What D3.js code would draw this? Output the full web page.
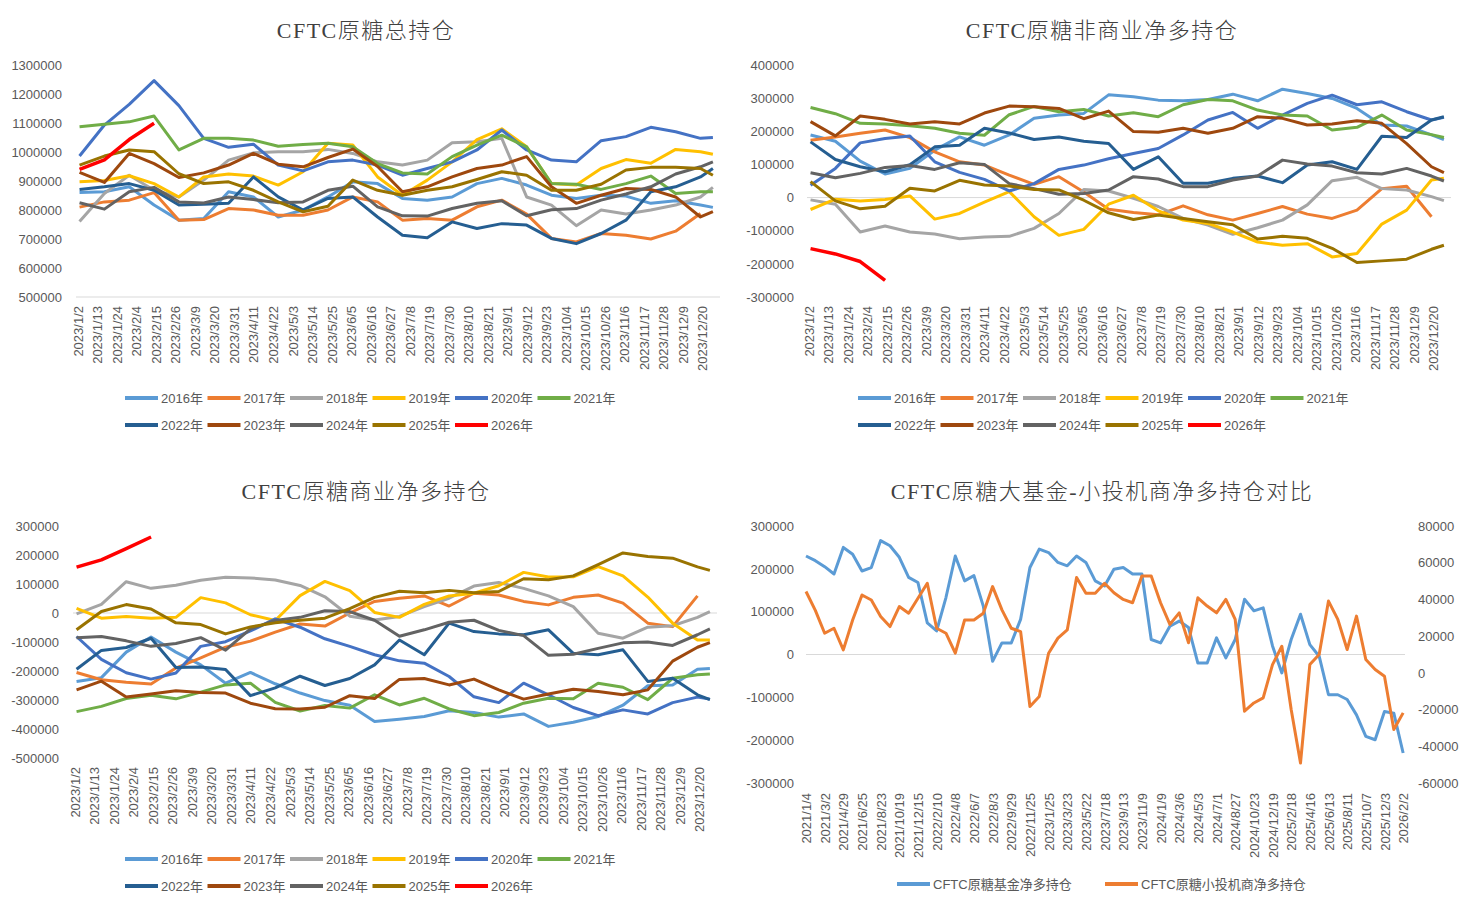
<!DOCTYPE html>
<html>
<head>
<meta charset="utf-8">
<script src="https://cdn.jsdelivr.net/npm/d3@7"></script>
<style>
  body { margin: 0; background: #fff; }
  text { font-family: "Liberation Sans", "Noto Sans CJK SC", sans-serif; }
</style>
</head>
<body>
<script>
const years = ["2016年", "2017年", "2018年", "2019年", "2020年", "2021年", "2022年", "2023年", "2024年", "2025年", "2026年"];
const yearColors = ["#5B9BD5", "#ED7D31", "#A5A5A5", "#FFC000", "#4472C4", "#70AD47", "#255E91", "#9E480E", "#636363", "#997300", "#FF0000"];

// every second week, mapped onto the 2023 calendar
const sampleDates = ["2023/1/3", "2023/1/17", "2023/1/31", "2023/2/14", "2023/2/28", "2023/3/14", "2023/3/28",
  "2023/4/11", "2023/4/25", "2023/5/9", "2023/5/23", "2023/6/6", "2023/6/20", "2023/7/4", "2023/7/18",
  "2023/8/1", "2023/8/15", "2023/8/29", "2023/9/12", "2023/9/26", "2023/10/10", "2023/10/24", "2023/11/7",
  "2023/11/21", "2023/12/5", "2023/12/19", "2023/12/26"];

// CFTC原糖总持仓, one row per year
const totalOI = [
  [860000, 863000, 880000, 817000, 765000, 771000, 863000, 845000, 776000, 800000, 845000, 897000, 891000, 840000, 834000, 845000, 891000, 909000, 886000, 851000, 840000, 851000, 848000, 823000, 832000, 817000, 809000],
  [810000, 828000, 834000, 860000, 765000, 767000, 805000, 800000, 782000, 782000, 800000, 845000, 828000, 765000, 771000, 765000, 811000, 834000, 786000, 702000, 690000, 719000, 713000, 700000, 727000, 788000],
  [760000, 857000, 920000, 868000, 845000, 903000, 972000, 997000, 1001000, 1001000, 1009000, 995000, 966000, 955000, 972000, 1032000, 1035000, 1047000, 845000, 817000, 746000, 800000, 786000, 800000, 817000, 845000, 878000],
  [897000, 902000, 918000, 891000, 845000, 914000, 924000, 917000, 886000, 932000, 1030000, 1024000, 914000, 851000, 903000, 966000, 1043000, 1080000, 1018000, 891000, 886000, 943000, 974000, 961000, 1009000, 1001000, 992000],
  [986000, 1093000, 1164000, 1246000, 1160000, 1047000, 1016000, 1027000, 955000, 935000, 966000, 972000, 955000, 920000, 943000, 966000, 1007000, 1076000, 1007000, 972000, 966000, 1039000, 1053000, 1085000, 1070000, 1047000, 1050000],
  [1087000, 1096000, 1104000, 1124000, 1007000, 1047000, 1047000, 1041000, 1020000, 1026000, 1030000, 1018000, 960000, 928000, 924000, 984000, 1024000, 1058000, 1018000, 891000, 889000, 871000, 891000, 917000, 857000, 863000, 863000],
  [871000, 880000, 891000, 868000, 817000, 820000, 823000, 914000, 845000, 800000, 840000, 845000, 776000, 713000, 704000, 759000, 736000, 753000, 748000, 702000, 684000, 719000, 765000, 863000, 880000, 914000, 943000],
  [930000, 895000, 995000, 960000, 912000, 928000, 955000, 995000, 958000, 949000, 981000, 1010000, 950000, 863000, 880000, 914000, 943000, 955000, 984000, 880000, 823000, 851000, 874000, 871000, 845000, 776000, 794000],
  [825000, 803000, 863000, 878000, 828000, 824000, 845000, 836000, 825000, 828000, 868000, 882000, 811000, 780000, 779000, 805000, 823000, 832000, 780000, 801000, 805000, 834000, 855000, 880000, 924000, 949000, 966000],
  [955000, 986000, 1007000, 1001000, 925000, 891000, 897000, 868000, 828000, 794000, 813000, 903000, 868000, 851000, 868000, 880000, 905000, 932000, 920000, 868000, 868000, 889000, 938000, 947000, 947000, 943000, 920000],
  [940000, 973000, 1043000, 1099000]
];

// CFTC原糖非商业净多持仓
const nonCommNet = [
  [189000, 170000, 110000, 71000, 88000, 143000, 183000, 158000, 189000, 239000, 249000, 254000, 310000, 304000, 294000, 292000, 296000, 312000, 292000, 327000, 314000, 299000, 269000, 219000, 216000, 189000, 175000],
  [173000, 183000, 194000, 204000, 181000, 138000, 108000, 98000, 68000, 40000, 63000, 17000, -35000, -45000, -52000, -25000, -52000, -68000, -48000, -27000, -50000, -63000, -38000, 27000, 34000, -58000],
  [-7000, -20000, -104000, -86000, -104000, -110000, -124000, -119000, -117000, -93000, -48000, 24000, 20000, -2000, -27000, -63000, -83000, -111000, -91000, -68000, -22000, 51000, 61000, 27000, 23000, 3000, -9000],
  [-36000, -5000, -10000, -6000, 5000, -65000, -48000, -14000, 18000, -58000, -114000, -96000, -20000, 7000, -40000, -68000, -78000, -104000, -134000, -144000, -139000, -179000, -169000, -80000, -38000, 53000, 58000],
  [37000, 88000, 165000, 178000, 186000, 108000, 76000, 55000, 20000, 42000, 85000, 98000, 117000, 133000, 148000, 189000, 234000, 257000, 209000, 249000, 284000, 309000, 280000, 289000, 259000, 234000, 242000],
  [272000, 253000, 224000, 222000, 217000, 209000, 194000, 188000, 250000, 275000, 259000, 266000, 246000, 256000, 244000, 280000, 296000, 292000, 264000, 249000, 246000, 204000, 212000, 249000, 204000, 190000, 181000],
  [168000, 115000, 93000, 78000, 99000, 153000, 158000, 209000, 195000, 175000, 183000, 170000, 163000, 85000, 123000, 43000, 43000, 58000, 65000, 45000, 98000, 108000, 85000, 185000, 181000, 234000, 244000],
  [229000, 186000, 246000, 236000, 222000, 229000, 222000, 255000, 276000, 274000, 269000, 238000, 261000, 199000, 197000, 209000, 194000, 209000, 244000, 239000, 219000, 222000, 232000, 224000, 163000, 93000, 75000],
  [75000, 60000, 73000, 91000, 97000, 85000, 105000, 100000, 42000, 27000, 10000, 12000, 23000, 63000, 56000, 33000, 33000, 53000, 65000, 113000, 101000, 95000, 75000, 71000, 88000, 65000, 50000],
  [48000, -10000, -34000, -26000, 28000, 20000, 52000, 38000, 35000, 24000, 23000, -8000, -46000, -66000, -53000, -63000, -73000, -82000, -125000, -117000, -123000, -153000, -196000, -191000, -186000, -156000, -144000],
  [-154000, -170000, -193000, -250000]
];

// CFTC原糖商业净多持仓
const commNet = [
  [-236000, -223000, -135000, -83000, -135000, -179000, -242000, -205000, -244000, -276000, -302000, -318000, -374000, -366000, -357000, -337000, -343000, -359000, -348000, -391000, -377000, -357000, -318000, -251000, -248000, -194000, -191000],
  [-205000, -230000, -239000, -245000, -190000, -155000, -118000, -97000, -66000, -38000, -45000, 0, 40000, 51000, 59000, 24000, 68000, 62000, 40000, 28000, 54000, 62000, 34000, -35000, -47000, 59000],
  [-3000, 30000, 108000, 85000, 96000, 113000, 123000, 121000, 114000, 95000, 56000, -11000, -24000, -12000, 22000, 51000, 93000, 105000, 85000, 59000, 22000, -70000, -87000, -49000, -44000, -15000, 5000],
  [16000, -18000, -12000, -18000, -15000, 53000, 35000, -6000, -26000, 60000, 109000, 77000, 2000, -15000, 30000, 59000, 68000, 94000, 140000, 124000, 125000, 160000, 128000, 55000, -35000, -93000, -93000],
  [-81000, -160000, -206000, -228000, -207000, -115000, -99000, -62000, -20000, -49000, -89000, -115000, -144000, -165000, -173000, -219000, -289000, -309000, -242000, -282000, -326000, -354000, -334000, -348000, -309000, -290000, -297000],
  [-340000, -322000, -295000, -284000, -296000, -273000, -248000, -242000, -308000, -338000, -319000, -328000, -282000, -317000, -294000, -331000, -354000, -343000, -311000, -294000, -296000, -242000, -256000, -299000, -225000, -213000, -210000],
  [-194000, -129000, -119000, -87000, -188000, -186000, -195000, -285000, -258000, -218000, -250000, -226000, -179000, -93000, -144000, -35000, -64000, -72000, -75000, -58000, -139000, -144000, -127000, -236000, -225000, -282000, -299000],
  [-265000, -235000, -290000, -279000, -268000, -274000, -276000, -311000, -330000, -331000, -325000, -285000, -295000, -229000, -226000, -248000, -228000, -265000, -297000, -279000, -263000, -271000, -282000, -265000, -166000, -118000, -102000],
  [-85000, -81000, -96000, -115000, -105000, -85000, -128000, -55000, -26000, -15000, 8000, 5000, -25000, -80000, -58000, -32000, -25000, -60000, -78000, -146000, -142000, -122000, -103000, -100000, -112000, -75000, -55000],
  [-58000, 5000, 29000, 14000, -34000, -40000, -72000, -48000, -34000, -25000, -18000, 15000, 54000, 75000, 70000, 78000, 70000, 74000, 118000, 115000, 128000, 167000, 207000, 195000, 189000, 159000, 147000],
  [158000, 183000, 222000, 262000]
];

// 大基金 vs 小投机商, sampled every 20 trading days from 2021/1/4
const fundLabels = ["2021/1/4", "2021/3/2", "2021/4/29", "2021/6/25", "2021/8/23", "2021/10/19", "2021/12/15",
  "2022/2/10", "2022/4/8", "2022/6/7", "2022/8/3", "2022/9/29", "2022/11/25", "2023/1/25", "2023/3/23",
  "2023/5/22", "2023/7/18", "2023/9/13", "2023/11/9", "2024/1/9", "2024/3/6", "2024/5/3", "2024/7/1",
  "2024/8/27", "2024/10/23", "2024/12/19", "2025/2/18", "2025/4/16", "2025/6/13", "2025/8/11",
  "2025/10/7", "2025/12/3", "2026/2/2"];
const fundNet = [230000, 219000, 205000, 188000, 250000, 234000, 195000, 203000, 266000, 254000, 227000, 180000,
  168000, 74000, 55000, 133000, 230000, 172000, 184000, 113000, -16000, 27000, 27000, 82000, 203000, 246000,
  238000, 215000, 207000, 230000, 215000, 172000, 160000, 199000, 203000, 188000, 188000, 35000, 27000, 66000,
  78000, 63000, -20000, -20000, 39000, -8000, 35000, 129000, 102000, 109000, 20000, -43000, 35000, 94000, 23000,
  -4000, -94000, -94000, -105000, -141000, -191000, -199000, -133000, -137000, -230000];
const specNet = [44300, 34000, 21600, 24300, 12500, 28800, 42400, 39700, 30700, 25200, 36100, 32500, 40600, 48800,
  24300, 21600, 10700, 28800, 28800, 32500, 47000, 34300, 24300, 22500, -18300, -12900, 10700, 18900, 23400,
  52000, 43400, 43400, 48800, 43600, 40000, 38200, 52700, 52700, 38200, 26400, 32700, 16400, 40900, 36400, 32700,
  40000, 29100, -20900, -16400, -13600, 4500, 14500, -20000, -49100, 4500, 10000, 39100, 29100, 12700, 30900,
  7300, 1800, -1800, -30900, -21800];
const fundSeries = ["CFTC原糖基金净多持仓", "CFTC原糖小投机商净多持仓"];
const fundColors = ["#5B9BD5", "#ED7D31"];

const W = 1470, H = 909;
const labelColor = "#595959";
const svg = d3.select("body").append("svg").attr("width", W).attr("height", H);

const parse = d3.timeParse("%Y/%m/%d");
const fmt = d3.timeFormat("%Y/%-m/%-d");
const dates = sampleDates.map(parse);
const xTicks = d3.range(33).map(i => d3.timeDay.offset(new Date(2023, 0, 2), i * 11));

function title(cx, y, txt) {
  svg.append("text")
    .attr("x", cx).attr("y", y)
    .attr("text-anchor", "middle")
    .attr("fill", "#404040")
    .style("font-family", "'Liberation Serif', 'Noto Sans CJK SC', serif")
    .style("font-size", "22px")
    .style("font-weight", 300)
    .style("letter-spacing", "1.5px")
    .text(txt);
}

function yLabels(scale, ticks, xPos, orient) {
  const axis = orient === "left" ? d3.axisLeft(scale) : d3.axisRight(scale);
  svg.append("g")
    .attr("transform", `translate(${xPos},0)`)
    .call(axis.tickValues(ticks).tickSize(0).tickPadding(0).tickFormat(d => String(d)))
    .call(g => g.select(".domain").remove())
    .selectAll("text")
    .attr("fill", labelColor)
    .style("font-size", "13px");
}

function xLabels(axis, yTop) {
  svg.append("g")
    .attr("transform", `translate(0,${yTop})`)
    .call(axis.tickSize(0).tickPadding(0))
    .call(g => g.select(".domain").remove())
    .selectAll("text")
    .attr("x", 0).attr("y", 0).attr("dy", "0.35em")
    .attr("transform", "rotate(-90)")
    .attr("text-anchor", "end")
    .attr("fill", labelColor)
    .style("font-size", "13px");
}

function legend(names, colors, x0, ys, perRow, step) {
  names.forEach((name, i) => {
    const lx = x0 + (i % perRow) * step;
    const ly = ys[Math.floor(i / perRow)];
    const g = svg.append("g");
    g.append("line")
      .attr("x1", lx).attr("x2", lx + 33).attr("y1", ly).attr("y2", ly)
      .attr("stroke", colors[i]).attr("stroke-width", 4);
    g.append("text")
      .attr("x", lx + 36).attr("y", ly).attr("dy", "0.35em")
      .attr("fill", labelColor)
      .style("font-size", "13px")
      .text(name);
  });
}

function yearPanel(cfg) {
  const x = d3.scaleTime()
    .domain([new Date(2023, 0, 1), new Date(2023, 11, 30)])
    .range([cfg.x0, cfg.x1]);
  const y = d3.scaleLinear().domain(cfg.yDomain).range([cfg.yBottom, cfg.yTop]);

  title(cfg.titleX, cfg.titleY, cfg.title);
  yLabels(y, d3.range(cfg.yDomain[0], cfg.yDomain[1] + 1, 100000), cfg.yLabelX, "left");

  svg.append("line")
    .attr("x1", cfg.x0).attr("x2", cfg.x1)
    .attr("y1", y(cfg.baseline)).attr("y2", y(cfg.baseline))
    .attr("stroke", "#D9D9D9").attr("stroke-width", 1);

  xLabels(d3.axisBottom(x).tickValues(xTicks).tickFormat(fmt), cfg.xLabelTop);

  const line = d3.line()
    .x((d, i) => x(dates[i]))
    .y(d => y(d));

  svg.append("g")
    .selectAll("path")
    .data(cfg.series)
    .enter()
    .append("path")
    .attr("d", d => line(d))
    .attr("fill", "none")
    .attr("stroke", (d, i) => yearColors[i])
    .attr("stroke-width", (d, i) => i === 10 ? 3.5 : 3)
    .attr("stroke-linejoin", "round");

  legend(years, yearColors, cfg.legendX, cfg.legendY, 6, 82.5);
}

yearPanel({
  title: "CFTC原糖总持仓", titleX: 366, titleY: 38,
  series: totalOI, x0: 76, x1: 720, yDomain: [500000, 1300000], yTop: 65, yBottom: 297,
  baseline: 500000, yLabelX: 62, xLabelTop: 306, legendX: 125, legendY: [398, 425]
});
yearPanel({
  title: "CFTC原糖非商业净多持仓", titleX: 1102, titleY: 38,
  series: nonCommNet, x0: 807, x1: 1451, yDomain: [-300000, 400000], yTop: 65, yBottom: 297,
  baseline: 0, yLabelX: 794, xLabelTop: 306, legendX: 858, legendY: [398, 425]
});
yearPanel({
  title: "CFTC原糖商业净多持仓", titleX: 366, titleY: 499,
  series: commNet, x0: 73, x1: 717, yDomain: [-500000, 300000], yTop: 526, yBottom: 758,
  baseline: 0, yLabelX: 59, xLabelTop: 767, legendX: 125, legendY: [859, 886]
});

// fund vs small speculators, two value axes
(function () {
  const x = d3.scaleLinear().domain([0, 1284]).range([806, 1405]);
  const yL = d3.scaleLinear().domain([-300000, 300000]).range([783, 526]);
  const yR = d3.scaleLinear().domain([-60000, 80000]).range([783, 526]);

  title(1102, 499, "CFTC原糖大基金-小投机商净多持仓对比");
  yLabels(yL, d3.range(-300000, 300001, 100000), 794, "left");
  yLabels(yR, d3.range(-60000, 80001, 20000), 1418, "right");

  svg.append("line")
    .attr("x1", 806).attr("x2", 1405)
    .attr("y1", yL(0)).attr("y2", yL(0))
    .attr("stroke", "#D9D9D9").attr("stroke-width", 1);

  xLabels(d3.axisBottom(x).tickValues(d3.range(0, 1281, 40)).tickFormat((d, i) => fundLabels[i]), 793);

  const lineL = d3.line().x((d, i) => x(i * 20)).y(d => yL(d));
  const lineR = d3.line().x((d, i) => x(i * 20)).y(d => yR(d));

  svg.append("path")
    .attr("d", lineL(fundNet))
    .attr("fill", "none").attr("stroke", fundColors[0])
    .attr("stroke-width", 3).attr("stroke-linejoin", "round");
  svg.append("path")
    .attr("d", lineR(specNet))
    .attr("fill", "none").attr("stroke", fundColors[1])
    .attr("stroke-width", 3).attr("stroke-linejoin", "round");

  legend(fundSeries.slice(0, 1), fundColors.slice(0, 1), 897, [884], 1, 0);
  legend(fundSeries.slice(1), fundColors.slice(1), 1105, [884], 1, 0);
})();
</script>
</body>
</html>
